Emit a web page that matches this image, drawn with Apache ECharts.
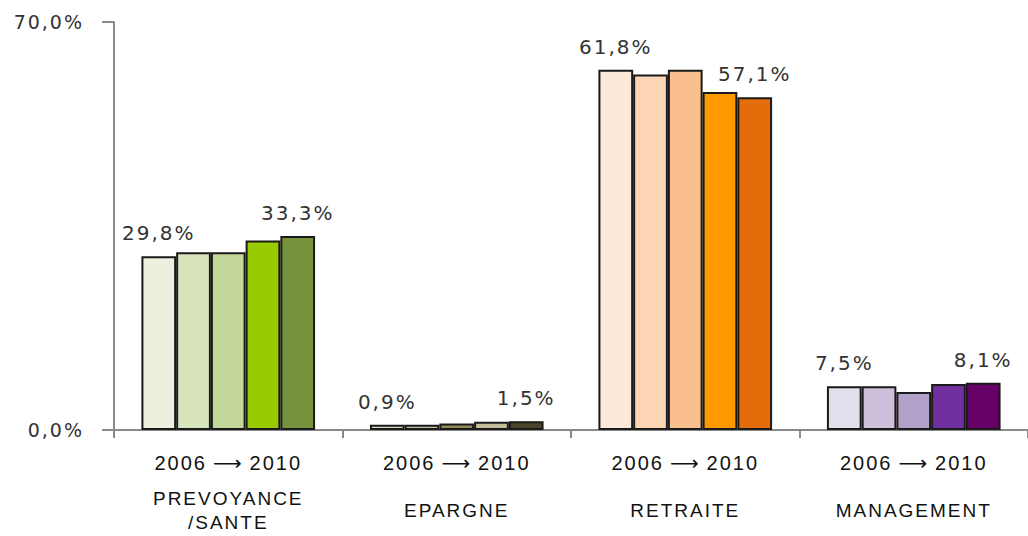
<!DOCTYPE html>
<html>
<head>
<meta charset="utf-8">
<script src="https://cdn.jsdelivr.net/npm/echarts@6/dist/echarts.min.js"></script>
<style>
  html, body { margin: 0; padding: 0; background: #fff; }
  #chart { width: 1028px; height: 536px; letter-spacing: 2px; }
</style>
</head>
<body>
<div id="chart"></div>
<script>
// Business lines and the period shown under each group
const categories = ['PREVOYANCE\n/SANTE', 'EPARGNE', 'RETRAITE', 'MANAGEMENT'];
const periodLabel = '2006\u2009\u27F6\u20092010';
const years = ['2006', '2007', '2008', '2009', '2010'];

// Share per business line, one array per year (%)
const s2006 = [29.8, 0.9, 61.8, 7.5];
const s2007 = [30.5, 0.9, 61.0, 7.5];
const s2008 = [30.5, 1.1, 61.8, 6.5];
const s2009 = [32.5, 1.4, 58.0, 7.9];
const s2010 = [33.3, 1.5, 57.1, 8.1];
const yearValues = [s2006, s2007, s2008, s2009, s2010];

// Y axis range
const yMin = 0;
const yMax = 70;

// Colour ramp for each business line (2006 -> 2010)
const prevoyanceColors = ['#ebf1de', '#d8e4bc', '#c4d79b', '#99cc00', '#76923c'];
const epargneColors = ['#ddd9c4', '#c9c3a6', '#948a54', '#c4bd97', '#4a452a'];
const retraiteColors = ['#fde9d9', '#fcd5b4', '#fabf8f', '#ff9900', '#e46c0a'];
const managementColors = ['#e4dfec', '#ccc0da', '#b1a0c7', '#7030a0', '#660066'];
const groupColors = [prevoyanceColors, epargneColors, retraiteColors, managementColors];

const fmtPct = v => v.toFixed(1).replace('.', ',') + '%';
const textColor = '#333333';
const axisColor = '#8a8a8a';

const series = years.map((year, i) => ({
  name: year,
  type: 'bar',
  xAxisIndex: 0,
  barGap: '0%',
  barCategoryGap: '24%',
  data: yearValues[i].map((v, c) => ({
    value: v,
    itemStyle: { color: groupColors[c][i] }
  })),
  itemStyle: { borderColor: '#1a1a1a', borderWidth: 2 },
  label: {
    show: i === 0 || i === years.length - 1,
    position: 'top',
    distance: 13,
    formatter: p => fmtPct(p.value),
    fontFamily: 'DejaVu Sans',
    fontSize: 20,
    color: textColor
  }
}));

const chart = echarts.init(document.getElementById('chart'), null, { renderer: 'svg' });
chart.setOption({
  animation: false,
  grid: { left: 114, top: 22, width: 920, bottom: 106 },
  xAxis: [
    {
      type: 'category',
      data: categories,
      position: 'bottom',
      axisLine: { lineStyle: { color: axisColor, width: 2 } },
      axisTick: { show: true, length: 8, lineStyle: { color: axisColor, width: 2 } },
      axisLabel: {
        formatter: () => periodLabel,
        margin: 33,
        verticalAlign: 'middle',
        fontFamily: '"Liberation Sans", "DejaVu Sans"',
        fontSize: 20,
        color: '#111'
      }
    },
    {
      type: 'category',
      data: categories,
      position: 'bottom',
      offset: 0,
      axisLine: { show: false },
      axisTick: { show: false },
      axisLabel: {
        margin: 80,
        verticalAlign: 'middle',
        lineHeight: 24,
        fontFamily: 'Liberation Sans',
        fontSize: 19,
        color: '#111'
      }
    }
  ],
  yAxis: {
    type: 'value',
    min: yMin,
    max: yMax,
    interval: yMax - yMin,
    splitLine: { show: false },
    axisLine: { show: true, lineStyle: { color: axisColor, width: 2 } },
    axisTick: { show: true, length: 12, lineStyle: { color: axisColor, width: 2 } },
    axisLabel: {
      margin: 30,
      formatter: v => fmtPct(v),
      fontFamily: 'DejaVu Sans',
      fontSize: 19,
      color: textColor
    }
  },
  series: series
});
</script>
</body>
</html>
